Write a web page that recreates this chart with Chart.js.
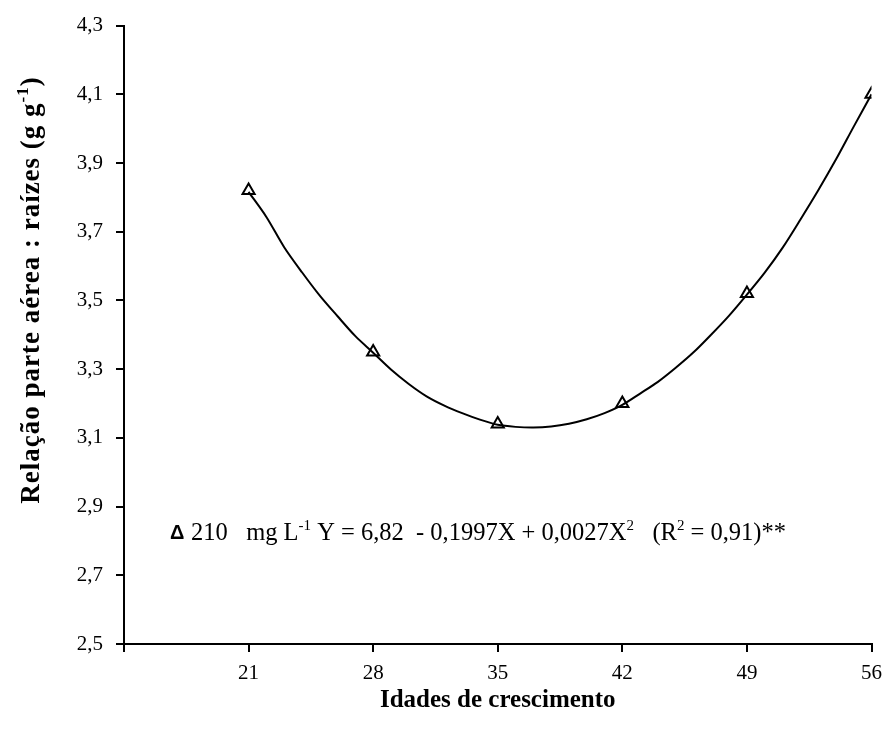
<!DOCTYPE html>
<html>
<head>
<meta charset="utf-8">
<script src="https://cdn.jsdelivr.net/npm/chart.js@4.4.1/dist/chart.umd.min.js"></script>
<style>
  html, body { margin: 0; padding: 0; background: #fff; }
</style>
</head>
<body>
<canvas id="chart" width="891" height="736"></canvas>
<script>
// observed values (triangles)
const days = [21, 28, 35, 42, 49, 56];
const ratio = [3.82, 3.35, 3.14, 3.20, 3.52, 4.10];

// fitted curve
const curveDays = [21, 22, 23, 24, 25, 26, 27, 28, 29, 30, 31, 32, 33, 34, 35, 36, 37, 38,
  39, 40, 41, 42, 43, 44, 45, 46, 47, 48, 49, 50, 51, 52, 53, 54, 55, 56];
const curveRatio = [3.816, 3.743, 3.655, 3.582, 3.514, 3.454, 3.396, 3.348, 3.299, 3.257,
  3.221, 3.194, 3.172, 3.153, 3.138, 3.132, 3.130, 3.133, 3.141, 3.154, 3.172, 3.196,
  3.229, 3.263, 3.304, 3.349, 3.401, 3.456, 3.517, 3.581, 3.653, 3.735, 3.820, 3.910,
  4.006, 4.100];

const xTicks = [14, 21, 28, 35, 42, 49, 56];
const yTicks = [2.5, 2.7, 2.9, 3.1, 3.3, 3.5, 3.7, 3.9, 4.1, 4.3];

const SERIF = '"Liberation Serif", "Times New Roman", serif';

// draws a run of [text, isSuperscript] pieces starting at x (baseline y)
function drawRuns(ctx, runs, x, y, size, bold) {
  runs.forEach(([txt, sup]) => {
    const s = sup ? Math.round(size * 0.62) : size;
    ctx.font = (bold ? 'bold ' : '') + s + 'px ' + SERIF;
    ctx.fillText(txt, x, sup ? y - size * 0.42 : y);
    x += ctx.measureText(txt).width;
  });
  return x;
}
function runsWidth(ctx, runs, size, bold) {
  let w = 0;
  runs.forEach(([txt, sup]) => {
    const s = sup ? Math.round(size * 0.62) : size;
    ctx.font = (bold ? 'bold ' : '') + s + 'px ' + SERIF;
    w += ctx.measureText(txt).width;
  });
  return w;
}

const textPlugin = {
  id: 'texts',
  afterDraw(chart) {
    const ctx = chart.ctx;
    const area = chart.chartArea;
    ctx.save();
    ctx.fillStyle = '#000';
    ctx.textAlign = 'left';
    ctx.textBaseline = 'alphabetic';

    // x title
    ctx.font = 'bold 25px ' + SERIF;
    ctx.textAlign = 'center';
    ctx.fillText('Idades de crescimento', (area.left + area.right) / 2, 707);
    ctx.textAlign = 'left';

    // y title with superscript
    const yRuns = [['Relação parte aérea : raízes (g g', false], ['-1', true], [')', false]];
    const ySize = 27;
    ctx.save();
    ctx.letterSpacing = '1px';
    const w = runsWidth(ctx, yRuns, ySize, true);
    ctx.translate(39, 290);
    ctx.rotate(-Math.PI / 2);
    drawRuns(ctx, yRuns, -w / 2, 0, ySize, true);
    ctx.restore();

    // regression note
    ctx.font = 'bold 20px "Liberation Sans", Arial, sans-serif';
    ctx.fillText('\u0394', 170, 539);
    const note = [['210   mg L', false], ['-1', true], [' Y = 6,82  - 0,1997X + 0,0027X', false],
      ['2', true], ['   (R', false], ['2', true], [' = 0,91)**', false]];
    drawRuns(ctx, note, 191, 540, 24.5, false);
    ctx.restore();
  }
};

new Chart(document.getElementById('chart'), {
  type: 'scatter',
  data: {
    datasets: [
      {
        data: days.map((d, i) => ({ x: d, y: ratio[i] })),
        pointStyle: 'triangle',
        pointRadius: 7,
        borderColor: '#000',
        backgroundColor: 'rgba(255,255,255,0)',
        borderWidth: 2,
        order: 0
      },
      {
        data: curveDays.map((d, i) => ({ x: d, y: curveRatio[i] })),
        showLine: true,
        pointRadius: 0,
        borderColor: '#000',
        borderWidth: 2,
        tension: 0.3,
        order: 1
      }
    ]
  },
  options: {
    responsive: false,
    devicePixelRatio: 1,
    animation: false,
    layout: { padding: { top: 24, right: 17, left: 0, bottom: 0 } },
    plugins: { legend: { display: false }, tooltip: { enabled: false } },
    scales: {
      x: {
        type: 'linear',
        min: 14, max: 56,
        afterBuildTicks: s => { s.ticks = xTicks.map(v => ({ value: v })); },
        afterFit: s => { s.height = 92; },
        border: { display: true, color: '#000', width: 2 },
        grid: { drawOnChartArea: false, tickLength: 8, color: '#000', lineWidth: 2 },
        ticks: {
          padding: 9,
          color: '#000',
          font: { family: SERIF, size: 21 },
          maxRotation: 0,
          callback: v => (v === 14 ? '' : String(v))
        }
      },
      y: {
        min: 2.5, max: 4.3,
        afterBuildTicks: s => { s.ticks = yTicks.map(v => ({ value: v })); },
        afterFit: s => { s.width = 124; },
        border: { display: true, color: '#000', width: 2 },
        grid: { drawOnChartArea: false, tickLength: 8, color: '#000', lineWidth: 2 },
        ticks: {
          padding: 13,
          color: '#000',
          font: { family: SERIF, size: 21 },
          callback: v => v.toFixed(1).replace('.', ',')
        }
      }
    }
  },
  plugins: [textPlugin]
});
</script>
</body>
</html>
